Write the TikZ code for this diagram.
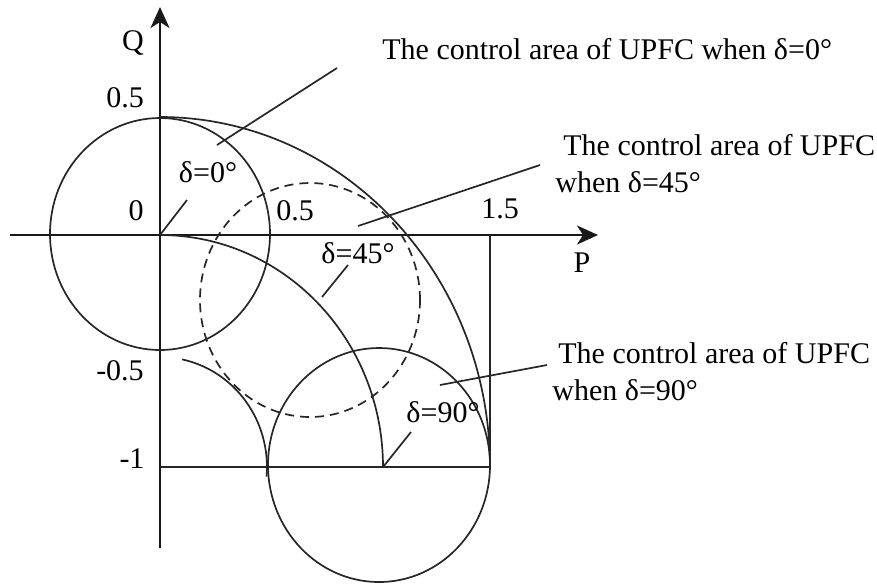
\documentclass[tikz,border=0pt]{standalone}
\usepackage{fontspec}
\setmainfont{Liberation Serif}
\usetikzlibrary{arrows.meta}
\begin{document}
\begin{tikzpicture}[x=0.5pt,y=-0.5pt,
  lbl/.style={font=\fontsize{15}{18}\selectfont, inner sep=0pt, anchor=base},
  ttl/.style={font=\fontsize{15}{18}\selectfont, inner sep=0pt, anchor=base west},
  ln/.style={line width=0.85pt, black!85},
  dsh/.style={ln, dash pattern=on 4.5pt off 3pt},
  ax/.style={line width=1pt, black!90, -{Stealth[length=10.5pt,width=9.5pt,inset=3pt]}}]
\useasboundingbox (0,0) rectangle (877,586);
% coordinates
\coordinate (O) at (160,235);
\coordinate (xs) at (10,235);
\coordinate (xe) at (598,235);
\coordinate (ys) at (160,548);
\coordinate (ye) at (160,7);
\coordinate (cA) at (160,234);
\coordinate (cD) at (310,300);
\coordinate (cB) at (379,465);
\coordinate (top) at (160,117);
\coordinate (qm) at (160,235);
\coordinate (sm) at (182.2,359.4);
\coordinate (m0) at (160,467);
\coordinate (m1) at (383,467);
\coordinate (r0) at (490,467);
\coordinate (r1) at (490,235);
% axes
\draw[ax] (xs) -- (xe);
\draw[ax] (ys) -- (ye);
% circles
\draw[ln] (cA) ellipse [x radius=55pt, y radius=58pt];
\draw[dsh] (cD) ellipse [x radius=55pt, y radius=58.5pt];
\draw[ln] (cB) ellipse [x radius=55.5pt, y radius=58.5pt];
% arcs centred at (0,-1)
\draw[ln] (top) arc[start angle=90, end angle=0, x radius=165pt, y radius=175pt];
\draw[ln] (qm) arc[start angle=90, end angle=0, x radius=111.5pt, y radius=116pt];
\draw[ln] (sm) arc[start angle=78, end angle=-5, x radius=53.5pt, y radius=55pt];
% boundary lines
\draw[ln] (m0) -- (r0) -- (r1);
% radius marks
\coordinate (d0) at (187,200);
\coordinate (d45a) at (322,297);
\coordinate (d45b) at (348,265);
\coordinate (d90) at (411,432);
\draw[ln] (O) -- (d0);
\draw[ln] (d45a) -- (d45b);
\draw[ln] (m1) -- (d90);
% callout lines
\coordinate (c0a) at (217,145); \coordinate (c0b) at (337,68);
\coordinate (c1a) at (358,226); \coordinate (c1b) at (540,165);
\coordinate (c2a) at (440,385); \coordinate (c2b) at (547,365);
\draw[ln] (c0a) -- (c0b);
\draw[ln] (c1a) -- (c1b);
\draw[ln] (c2a) -- (c2b);
% labels
\node[lbl] (lQ) at (133,50) {Q};
\node[lbl] (l05y) at (125,107) {0.5};
\node[lbl] (l0) at (136,220) {0};
\node[lbl] (l05x) at (295,220) {0.5};
\node[lbl] (l15) at (500,218) {1.5};
\node[lbl] (lP) at (582,272) {P};
\node[lbl] (lm05) at (120,380) {-0.5};
\node[lbl] (lm1) at (132,468) {-1};
\node[lbl] (ld0) at (208,182) {δ=0°};
\node[lbl] (ld45) at (358,263) {δ=45°};
\node[lbl] (ld90) at (443,422) {δ=90°};
\node[ttl] (t0) at (382,59) {The control area of UPFC when δ=0°};
\node[ttl] (t1a) at (563,155) {The control area of UPFC};
\node[ttl] (t1b) at (555,192) {when δ=45°};
\node[ttl] (t2a) at (558,363) {The control area of UPFC};
\node[ttl] (t2b) at (552,400) {when δ=90°};
\end{tikzpicture}
\end{document}
